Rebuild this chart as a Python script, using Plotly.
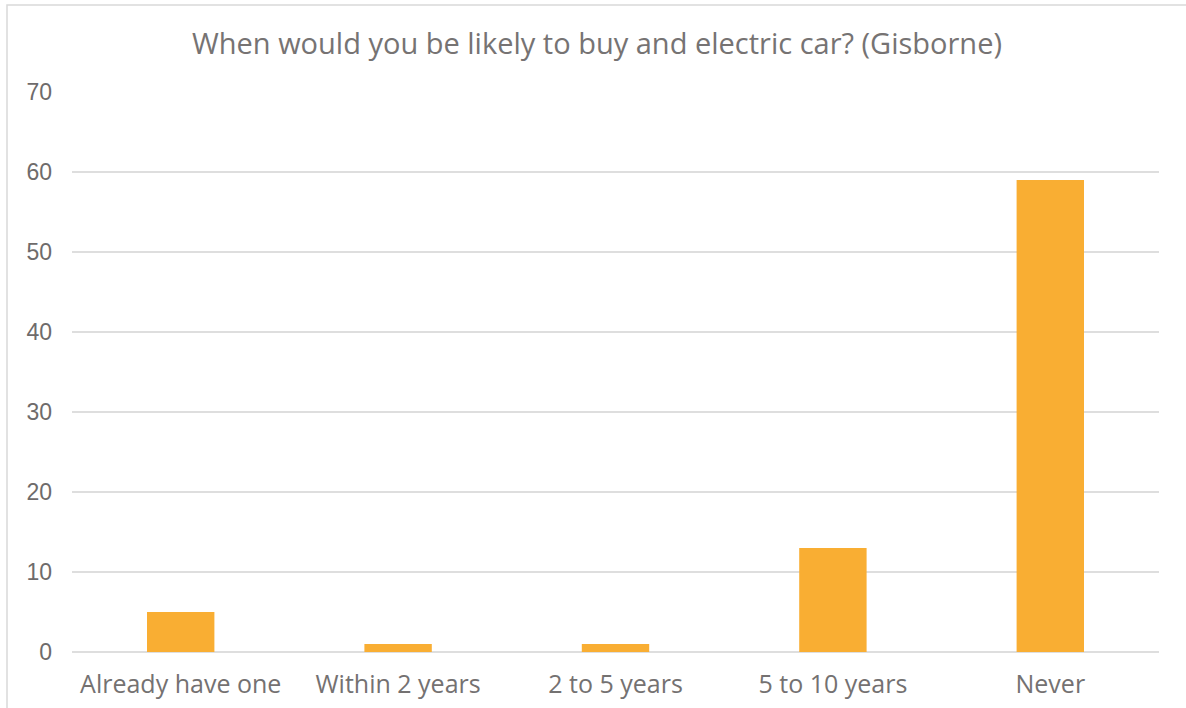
import plotly.graph_objects as go

categories = ["Already have one", "Within 2 years", "2 to 5 years", "5 to 10 years", "Never"]
values = [5, 1, 1, 13, 59]
y_ticks = [0, 10, 20, 30, 40, 50, 60, 70]
title_text = "When would you be likely to buy and electric car? (Gisborne)"

W, H = 1186, 708
L, R, T, B = 72, 27, 92, 56
pw, ph = W - L - R, H - T - B

fig = go.Figure(go.Bar(x=categories, y=values, marker=dict(color="#F9AE33", line=dict(width=0))))

fig.update_layout(
    width=W, height=H,
    margin=dict(l=L, r=R, t=T, b=B, pad=0, autoexpand=False),
    paper_bgcolor="white", plot_bgcolor="white",
    bargap=0.69,
    showlegend=False,
    title=dict(text=title_text, x=(597 - L) / pw, xref="paper", xanchor="center",
               y=1 - 44 / H, yanchor="middle",
               font=dict(family="Open Sans, sans-serif", size=29, color="#767373")),
    xaxis=dict(showgrid=False, showline=False, ticks="", ticklen=0, ticklabelstandoff=15,
               automargin=False,
               tickfont=dict(family="Open Sans, sans-serif", size=25, color="#747171")),
    yaxis=dict(range=[0, 70], tickvals=y_ticks, showgrid=True, gridcolor="#dedede", gridwidth=1.5,
               zeroline=True, zerolinecolor="#dedede", zerolinewidth=1.5,
               ticks="", ticklabelstandoff=19, automargin=False,
               tickfont=dict(family="Liberation Sans, Arial, sans-serif", size=23, color="#6e6b6b")),
    shapes=[dict(type="rect", xref="paper", yref="paper",
                 x0=(7 - L) / pw, x1=(W + 20 - L) / pw,
                 y0=-(H + 20 - T - ph) / ph, y1=1 + (T - 5) / ph,
                 line=dict(color="#d9d9d9", width=1.5), layer="below")],
)

fig.write_html("out.html")
